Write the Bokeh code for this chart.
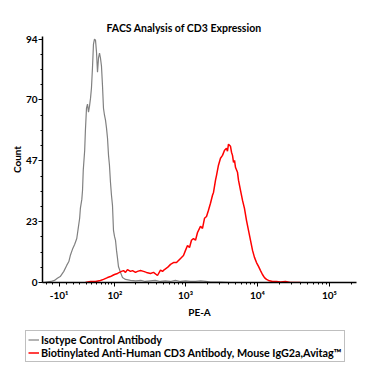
import math
from bokeh.plotting import figure
from bokeh.models import FixedTicker, Legend, LegendItem, Range1d
from bokeh.embed import file_html
from bokeh.resources import INLINE

# ---------------- data ----------------
title_text = "FACS Analysis of CD3 Expression"
x_label = "PE-A"
y_label = "Count"
series_names = ["Isotype Control Antibody",
                "Biotinylated Anti-Human CD3 Antibody, Mouse IgG2a,Avitag\u2122"]
series_colors = ["#808080", "#ff0000"]

# histogram positions in display decades (biexponential PE-A axis) and counts
iso_pos = [1.03, 1.13, 1.18, 1.22, 1.26, 1.31, 1.35, 1.38, 1.40, 1.43, 1.46, 1.49,
           1.51, 1.53, 1.54, 1.56, 1.57, 1.58, 1.60, 1.61, 1.625, 1.639, 1.653, 1.667,
           1.681, 1.694, 1.708, 1.722, 1.736, 1.750, 1.764, 1.778, 1.792, 1.806, 1.819,
           1.833, 1.847, 1.861, 1.875, 1.889, 1.903, 1.917, 1.931, 1.944, 1.958, 1.972,
           1.986, 2.0, 2.014, 2.028, 2.042, 2.056, 2.069, 2.097, 2.125, 2.167, 2.236,
           2.31, 2.38, 2.44, 2.51, 2.58, 2.65, 2.72, 2.79, 2.86, 2.93, 3.0, 3.07, 3.14,
           3.21, 3.28, 3.35, 3.49, 3.63]
iso_count = [0, 0.4, 0.8, 1.6, 2.3, 4.3, 6.6, 8.1, 10.4, 12.8, 14.7, 17.0,
             20.9, 24.8, 28.6, 32.1, 35.6, 43.3, 51.1, 58.8, 67.3, 68.9, 65.8, 68.1,
             71.2, 75.1, 82.8, 92.1, 94.0, 93.6, 89.0, 81.2, 86.7, 88.6, 86.7,
             83.6, 76.2, 67.3, 64.6, 62.7, 59.6, 55.7, 49.1, 45.3, 38.7, 33.7,
             29.8, 20.1, 17.8, 16.3, 12.4, 9.3, 6.2, 3.9, 1.9, 1.2, 0.8,
             0.6, 0.8, 0.4, 0.6, 0.8, 0.4, 0.6, 0.4, 0.8, 0.4, 0.6, 0.4, 0.4,
             0.6, 0.4, 0.2, 0.2, 0]

cd3_pos = [1.611, 1.681, 1.750, 1.819, 1.861, 1.917, 1.958, 1.986, 2.014, 2.056, 2.083,
           2.111, 2.139, 2.167, 2.194, 2.236, 2.264, 2.306, 2.333, 2.375, 2.417, 2.458,
           2.514, 2.556, 2.611, 2.653, 2.681, 2.708, 2.750, 2.792, 2.833, 2.875, 2.931,
           2.972, 3.0, 3.028, 3.056, 3.083, 3.111, 3.139, 3.167, 3.208, 3.236, 3.264,
           3.292, 3.319, 3.347, 3.375, 3.389, 3.417, 3.431, 3.458, 3.486, 3.514, 3.542,
           3.569, 3.583, 3.597, 3.625, 3.639, 3.653, 3.667, 3.681, 3.694, 3.722, 3.736,
           3.764, 3.792, 3.819, 3.847, 3.875, 3.903, 3.931, 3.958, 3.986, 4.014, 4.042,
           4.069, 4.097, 4.125, 4.153, 4.208, 4.264, 4.319, 4.389, 4.458, 4.597]
cd3_count = [0, 0.4, 0.4, 0.8, 1.2, 1.9, 2.3, 2.7, 3.1, 3.5, 3.9,
             4.3, 4.6, 3.9, 5.0, 4.3, 4.6, 3.9, 4.3, 4.6, 4.3, 3.9,
             3.5, 3.9, 2.7, 4.8, 4.3, 5.0, 5.8, 7.0, 7.7, 7.7, 9.3,
             10.4, 12.4, 14.3, 13.5, 16.3, 17.0, 16.3, 19.3, 21.7, 20.9, 24.8,
             25.5, 27.9, 30.6, 33.7, 34.8, 39.5, 41.4, 45.3, 48.0, 49.1, 51.1,
             51.8, 50.7, 53.4, 52.6, 50.3, 49.1, 46.4, 47.2, 44.5, 42.6, 39.5,
             35.6, 31.7, 28.6, 24.0, 20.1, 16.3, 12.4, 9.7, 7.7, 6.2, 4.6,
             3.1, 1.9, 1.2, 0.8, 0.4, 0.4, 0.2, 0.4, 0, 0]

x_tick_values = [-10, 100, 1000, 10000, 100000]
x_tick_labels = ["-10\u00b9", "10\u00b2", "10\u00b3", "10\u2074", "10\u2075"]
x_minor_values = [-30, -20, 0, 10, 20, 30, 40, 50, 60, 70, 80, 90,
                  200, 300, 400, 500, 600, 700, 800, 900,
                  2000, 3000, 4000, 5000, 6000, 7000, 8000, 9000,
                  20000, 30000, 40000, 50000, 60000, 70000, 80000, 90000, 200000]
y_tick_values = [0, 23.5, 47, 70.5, 94]
y_tick_labels = ["0", "23", "47", "70", "94"]


def biex(v):
    """Biexponential (arcsinh) display transform used for the PE-A axis."""
    return math.log10(22) + math.asinh(v / 44.0) / math.log(10)


FONT = "Lato"

p = figure(width=370, height=328,
           x_range=Range1d(1.014, 5.375), y_range=Range1d(0, 95),
           output_backend="svg", toolbar_location=None,
           min_border_left=42, min_border_right=14,
           min_border_top=36, min_border_bottom=46)
p.outline_line_color = None
p.xgrid.visible = False
p.ygrid.visible = False
p.background_fill_color = "white"
p.border_fill_color = "white"

p.line(iso_pos, iso_count, line_color=series_colors[0], line_width=1.2)
p.line(cd3_pos, cd3_count, line_color=series_colors[1], line_width=1.5)

# title
p.title.text = title_text
p.title.text_font = FONT
p.title.text_font_size = "10.5px"
p.title.text_font_style = "bold"
p.title.text_color = "black"
p.title.align = "left"
p.title.offset = 64
p.title.standoff = 6

# axes
xmaj = [biex(v) for v in x_tick_values]
xmin = [biex(v) for v in x_minor_values]
p.xaxis.ticker = FixedTicker(ticks=xmaj, minor_ticks=xmin)
p.xaxis.major_label_overrides = {t: lab for t, lab in zip(xmaj, x_tick_labels)}
p.yaxis.ticker = FixedTicker(ticks=y_tick_values,
                             minor_ticks=[i * 94 / 16 for i in range(17)])
p.yaxis.major_label_overrides = {t: lab for t, lab in zip(y_tick_values, y_tick_labels)}

for ax in (p.xaxis[0], p.yaxis[0]):
    ax.axis_line_color = "black"
    ax.axis_line_width = 1.5
    ax.major_tick_line_color = "black"
    ax.major_tick_line_width = 1
    ax.major_tick_out = 4
    ax.major_tick_in = 0
    ax.minor_tick_line_color = "black"
    ax.minor_tick_out = 2
    ax.minor_tick_in = 0
    ax.major_label_text_font = FONT
    ax.major_label_text_font_style = "bold"
    ax.major_label_text_font_size = "10px"
    ax.major_label_text_color = "black"
    ax.axis_label_text_font = FONT
    ax.axis_label_text_font_style = "bold"
    ax.axis_label_text_font_size = "10px"
    ax.axis_label_text_color = "black"

p.xaxis.axis_label = x_label
p.yaxis.axis_label = y_label
p.xaxis.major_label_standoff = 2
p.xaxis.axis_label_standoff = 2
p.yaxis.major_label_standoff = 1
p.yaxis.axis_label_standoff = 0

# ---------------- legend strip below the plot ----------------
lg = figure(width=370, height=42, x_range=Range1d(0, 1), y_range=Range1d(0, 1),
            x_axis_location=None, y_axis_location=None,
            output_backend="svg", toolbar_location=None,
            min_border_left=0, min_border_right=0, min_border_top=0, min_border_bottom=0)
lg.xgrid.visible = False
lg.ygrid.visible = False
lg.outline_line_color = None
lg.background_fill_color = "white"
lg.border_fill_color = "white"
# same series drawn outside this strip's view, only to supply the legend glyphs
g_iso = lg.line(iso_pos, iso_count, line_color=series_colors[0], line_width=1.2)
g_cd3 = lg.line(cd3_pos, cd3_count, line_color=series_colors[1], line_width=1.5)

legend = Legend(items=[LegendItem(label=series_names[0], renderers=[g_iso]),
                       LegendItem(label=series_names[1], renderers=[g_cd3])],
                location=(25, 8))
legend.label_text_font = FONT
legend.label_text_font_style = "bold"
legend.label_text_font_size = "10.8px"
legend.label_text_color = "black"
legend.label_height = 13
legend.glyph_height = 13
legend.glyph_width = 11
legend.label_standoff = 2
legend.padding = 2
legend.spacing = 0
legend.margin = 0
legend.border_line_color = "#808080"
legend.border_line_width = 1
legend.background_fill_alpha = 1
lg.add_layout(legend)

open("out.html", "w").write(file_html([p, lg], INLINE))
